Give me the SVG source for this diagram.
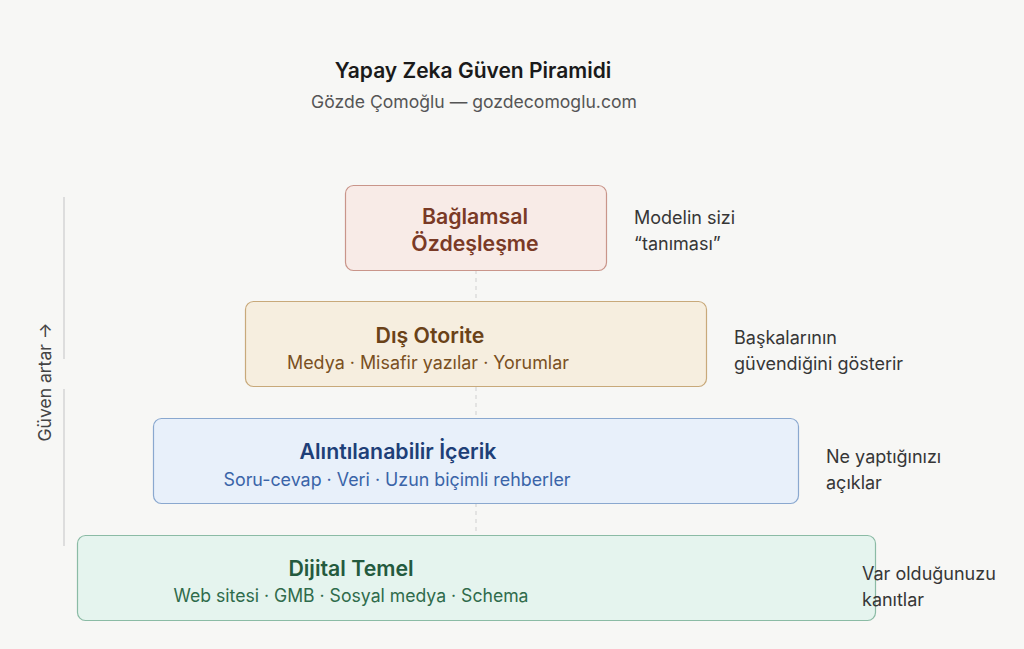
<svg xmlns="http://www.w3.org/2000/svg" width="1024" height="649" viewBox="0 0 1024 649">
<style>
text{font-family:Inter,"Noto Sans","DejaVu Sans",sans-serif}
.t{font-size:21px;font-weight:600;fill:#1a1a1a;text-anchor:middle}
.st{font-size:17.6px;fill:#555;text-anchor:middle}
.h{font-size:21.3px;font-weight:600;text-anchor:middle}
.s{font-size:18px;text-anchor:middle}
.r{font-size:18px;fill:#363636}
.box{stroke-width:1.2}
.conn{stroke:#cfcfcf;stroke-width:1;stroke-dasharray:4 4;fill:none}
.axis{stroke:#d4d4d4;stroke-width:1.5}
</style>
<rect width="1024" height="649" fill="#f7f7f5"/>
<g id="title">
<text class="t" x="473" y="78">Yapay Zeka Güven Piramidi</text>
<text class="st" x="474" y="108">Gözde Çomoğlu — gozdecomoglu.com</text>
</g>
<g id="connectors">
<line class="conn" x1="476" y1="270" x2="476" y2="301"/>
<line class="conn" x1="476" y1="387" x2="476" y2="418"/>
<line class="conn" x1="476" y1="503" x2="476" y2="535"/>
</g>
<g id="axis">
<line class="axis" x1="64" y1="197" x2="64" y2="359"/>
<line class="axis" x1="64" y1="389" x2="64" y2="546"/>
<text transform="translate(51,382) rotate(-90)" text-anchor="middle" font-size="17.5" fill="#444">Güven artar →</text>
</g>
<g id="node-baglamsal">
<rect class="box" x="345.5" y="185.5" width="261" height="85" rx="8" fill="#f8ebe7" stroke="#c9958a"/>
<text class="h" x="475" y="224" fill="#7a3a26">Bağlamsal</text>
<text class="h" x="475" y="251" fill="#7a3a26">Özdeşleşme</text>
<text class="r" x="634" y="224">Modelin sizi</text>
<text class="r" x="634" y="250">“tanıması”</text>
</g>
<g id="node-dis-otorite">
<rect class="box" x="245.5" y="301.5" width="461" height="85" rx="8" fill="#f6eedf" stroke="#c8a97a"/>
<text class="h" x="430" y="343" fill="#6a4218">Dış Otorite</text>
<text class="s" x="428" y="369" fill="#7a5022" textLength="282" lengthAdjust="spacingAndGlyphs">Medya · Misafir yazılar · Yorumlar</text>
<text class="r" x="734" y="344">Başkalarının</text>
<text class="r" x="734" y="370">güvendiğini gösterir</text>
</g>
<g id="node-alintilanabilir">
<rect class="box" x="153.5" y="418.5" width="645" height="85" rx="8" fill="#e8f0fa" stroke="#8aa8cf"/>
<text class="h" x="398" y="459" fill="#1e3f78">Alıntılanabilir İçerik</text>
<text class="s" x="397" y="486" fill="#3a64a8" textLength="347" lengthAdjust="spacingAndGlyphs">Soru-cevap · Veri · Uzun biçimli rehberler</text>
<text class="r" x="826" y="463">Ne yaptığınızı</text>
<text class="r" x="826" y="489">açıklar</text>
</g>
<g id="node-dijital">
<rect class="box" x="77.5" y="535.5" width="798" height="85" rx="8" fill="#e5f4ee" stroke="#8bbba5"/>
<text class="h" x="351" y="576" fill="#245a3e">Dijital Temel</text>
<text class="s" x="351" y="602" fill="#2f6b4b" textLength="355" lengthAdjust="spacingAndGlyphs">Web sitesi · GMB · Sosyal medya · Schema</text>
<text class="r" x="862" y="580">Var olduğunuzu</text>
<text class="r" x="862" y="606">kanıtlar</text>
</g>
</svg>
